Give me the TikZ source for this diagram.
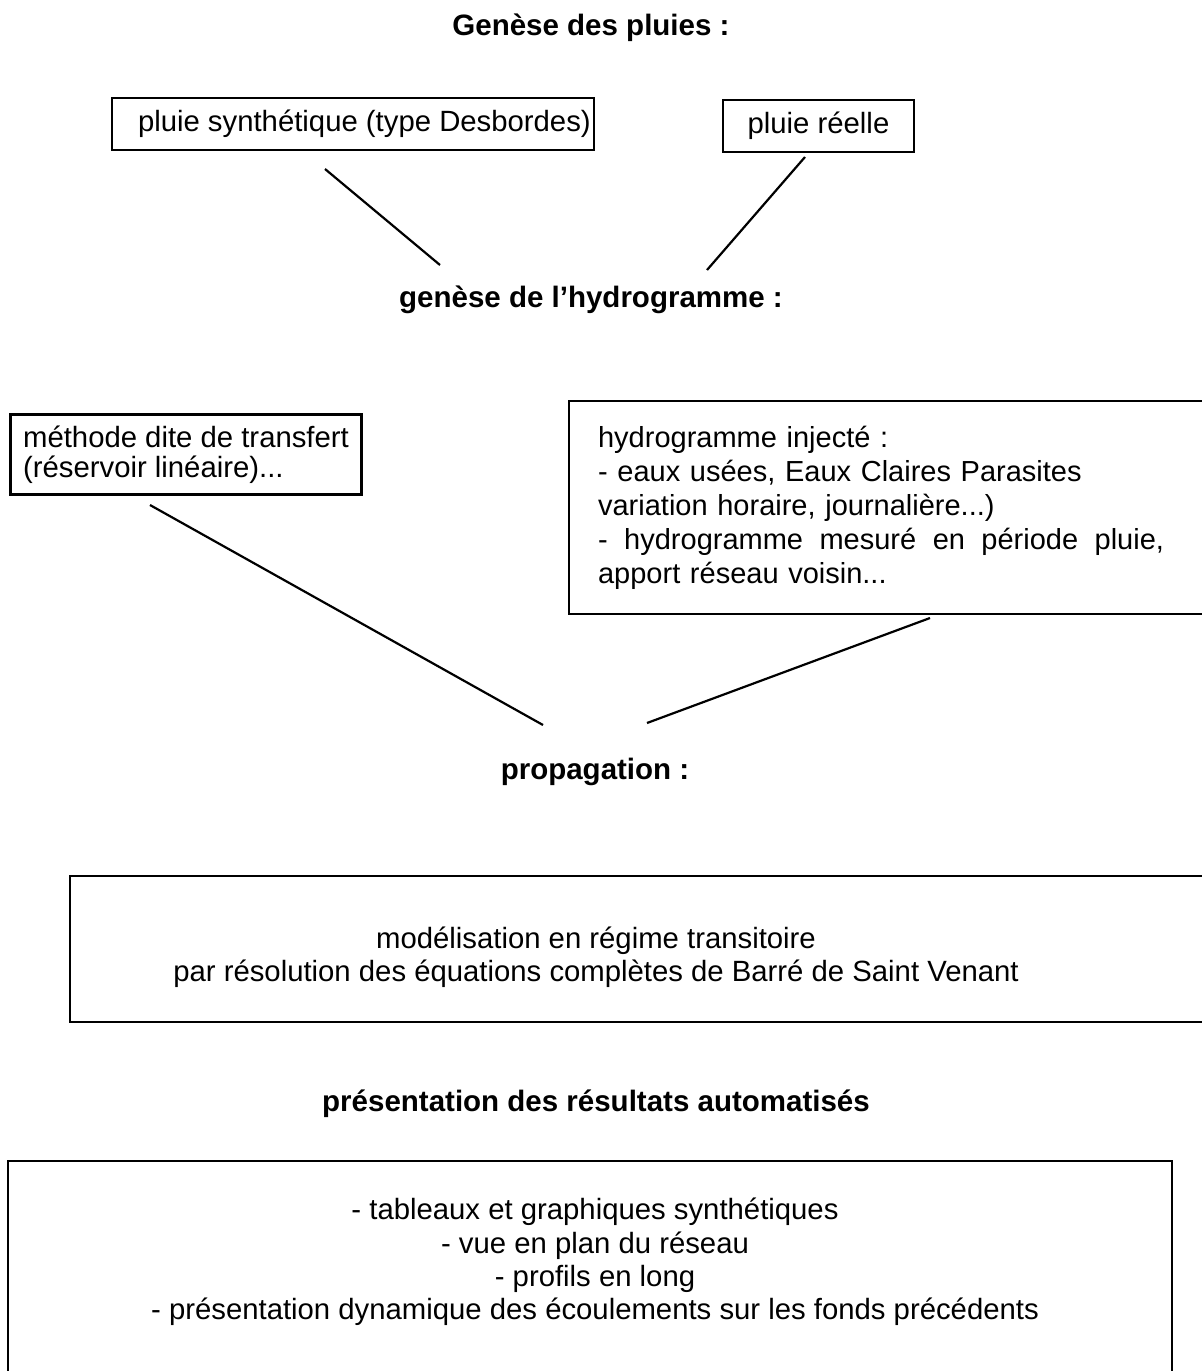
\documentclass[tikz,border=0pt]{standalone}
\usepackage{fontspec}
\setmainfont{Liberation Sans}
\begin{document}
\begin{tikzpicture}[x=1pt,y=-1pt,
  box/.style={draw, line width=2.2pt, inner sep=0pt},
  txt/.style={font=\fontsize{29.3}{33.3}\selectfont, inner sep=0pt},
  title/.style={font=\fontsize{29.5}{33}\selectfont\bfseries, inner sep=0pt},
  link/.style={line width=2.2pt}]
\path[use as bounding box, clip] (0,0) rectangle (1202,1371);

\node[title] (t1) at (591,28) {Genèse des pluies :};
\node[box, txt, minimum width=482pt, minimum height=52pt] (b1) at (353,124) {\makebox[482pt][l]{\hspace*{26pt}pluie synthétique (type Desbordes)}};
\node[box, txt, minimum width=191pt, minimum height=52pt] (b2) at (818.5,126) {pluie réelle};
\node[title] (t2) at (591,300) {genèse de l’hydrogramme :};

\node[box, txt, minimum width=351pt, minimum height=80pt, align=left, font=\fontsize{29.3}{30}\selectfont] (b3) at (186,454.5) {méthode dite de transfert\\(réservoir linéaire)...};

\node[box, txt, anchor=north west, minimum width=635pt, minimum height=213pt, align=left, text width=577pt, font=\fontsize{29}{34}\selectfont] (b4) at (568,400) {hydrogramme injecté :\\
- eaux usées, Eaux Claires Parasites\\
variation horaire, journalière...)\\
\leavevmode\hbox to 566pt{-\hfill hydrogramme\hfill mesuré\hfill en\hfill période\hfill pluie,}\\
apport réseau voisin...};

\node[title] (t3) at (595,772) {propagation :};

\node[box, minimum width=1133pt, minimum height=146pt] (b5) at (636.5,949) {};
\node[txt, align=center] (b5t) at (596,957) {modélisation en régime transitoire\\par résolution des équations complètes de Barré de Saint Venant};

\node[title] (t4) at (596,1104) {présentation des résultats automatisés};

\node[box, minimum width=1164pt, minimum height=229pt] (b6) at (590,1275.5) {};
\node[txt, align=center] (b6t) at (595,1262) {- tableaux et graphiques synthétiques\\- vue en plan du réseau\\- profils en long\\- présentation dynamique des écoulements sur les fonds précédents};

\coordinate (l1a) at (325,169);
\coordinate (l1b) at (440,265);
\coordinate (l2a) at (805,157);
\coordinate (l2b) at (707,270);
\coordinate (l3a) at (150,505);
\coordinate (l3b) at (543,725);
\coordinate (l4a) at (930,618);
\coordinate (l4b) at (647,723);
\draw[link] (l1a) -- (l1b);
\draw[link] (l2a) -- (l2b);
\draw[link] (l3a) -- (l3b);
\draw[link] (l4a) -- (l4b);
\end{tikzpicture}
\end{document}
